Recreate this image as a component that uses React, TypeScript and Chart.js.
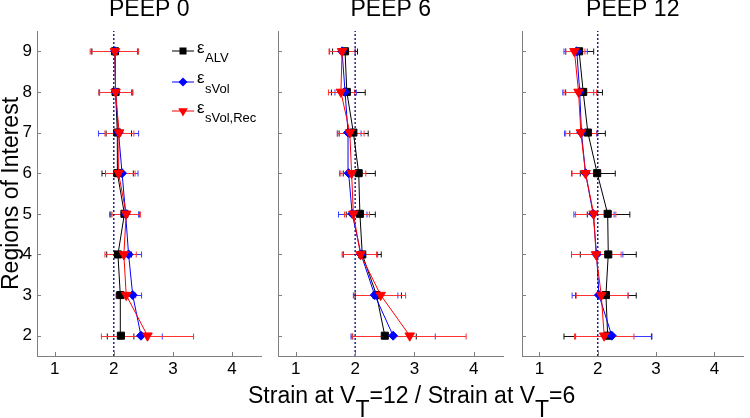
import React, { useEffect, useRef } from "react";
import { Chart, registerables } from "chart.js";

Chart.register(...registerables);

// ---------- data ----------
const regions = [2, 3, 4, 5, 6, 7, 8, 9];
const xTicks = [1, 2, 3, 4];
const xMin = 0.7;
const xMax = 4.5;
const yMin = 1.5;
const yMax = 9.5;
const refStrain = 2;
const panelTitles = ["PEEP 0", "PEEP 6", "PEEP 12"];

// PEEP 0
const p0AlvMean = [2.12, 2.11, 2.07, 2.18, 2.06, 2.06, 2.03, 2.02];
const p0AlvLo = [1.89, 2.04, 1.88, 1.95, 1.8, 1.87, 1.75, 1.63];
const p0AlvHi = [2.34, 2.2, 2.3, 2.43, 2.33, 2.3, 2.32, 2.41];
const p0VolMean = [2.46, 2.32, 2.25, 2.2, 2.14, 2.08, 2.03, 2.02];
const p0VolLo = [2.1, 2.17, 2.02, 1.93, 1.86, 1.74, 1.76, 1.62];
const p0VolHi = [2.82, 2.47, 2.47, 2.42, 2.41, 2.42, 2.3, 2.4];
const p0RecMean = [2.57, 2.21, 2.17, 2.21, 2.08, 2.09, 2.03, 2.02];
const p0RecLo = [1.79, 2.05, 1.85, 1.97, 1.86, 1.85, 1.75, 1.6];
const p0RecHi = [3.35, 2.37, 2.38, 2.45, 2.36, 2.34, 2.32, 2.42];

// PEEP 6
const p6AlvMean = [2.5, 2.36, 2.12, 2.08, 2.06, 1.97, 1.86, 1.83];
const p6AlvLo = [1.95, 2.0, 1.8, 1.85, 1.8, 1.73, 1.6, 1.62];
const p6AlvHi = [3.03, 2.78, 2.44, 2.34, 2.34, 2.22, 2.17, 2.04];
const p6VolMean = [2.64, 2.33, 2.1, 1.95, 1.89, 1.88, 1.83, 1.78];
const p6VolLo = [1.93, 1.97, 1.8, 1.72, 1.74, 1.7, 1.66, 1.57];
const p6VolHi = [3.35, 2.72, 2.38, 2.2, 2.05, 2.1, 2.02, 2.0];
const p6RecMean = [2.92, 2.43, 2.09, 1.97, 1.94, 1.91, 1.76, 1.78];
const p6RecLo = [1.96, 2.0, 1.78, 1.82, 1.76, 1.7, 1.55, 1.56];
const p6RecHi = [3.87, 2.85, 2.36, 2.24, 2.18, 2.15, 1.99, 2.0];

// PEEP 12
const p12AlvMean = [2.17, 2.14, 2.18, 2.17, 1.99, 1.83, 1.75, 1.68];
const p12AlvLo = [1.42, 1.62, 1.7, 1.82, 1.7, 1.52, 1.45, 1.45];
const p12AlvHi = [2.92, 2.66, 2.66, 2.55, 2.3, 2.13, 2.08, 1.93];
const p12VolMean = [2.24, 2.02, 1.98, 1.92, 1.79, 1.72, 1.69, 1.64];
const p12VolLo = [1.62, 1.56, 1.55, 1.59, 1.55, 1.43, 1.4, 1.42];
const p12VolHi = [2.93, 2.52, 2.43, 2.28, 2.02, 1.98, 1.93, 1.82];
const p12RecMean = [2.11, 2.06, 1.97, 1.93, 1.79, 1.71, 1.67, 1.6];
const p12RecLo = [1.6, 1.63, 1.55, 1.62, 1.56, 1.45, 1.42, 1.45];
const p12RecHi = [2.62, 2.52, 2.4, 2.31, 2.02, 1.99, 1.98, 1.78];

// ---------- styling ----------
const FONT = "'Liberation Sans', Arial, Helvetica, sans-serif";
const BLACK = "#000000";
const BLUE = "#0000ff";
const RED = "#ff0000";
const AXIS = "#808080";
const H = 418;

type Series = { mean: number[]; lo: number[]; hi: number[] };
type PanelCfg = {
  title: string;
  alv: Series;
  vol: Series;
  rec: Series;
  showY: boolean;
  left: number;
  width: number;
  yWidth: number;
  padRight: number;
};

const panels: PanelCfg[] = [
  {
    title: panelTitles[0],
    alv: { mean: p0AlvMean, lo: p0AlvLo, hi: p0AlvHi },
    vol: { mean: p0VolMean, lo: p0VolLo, hi: p0VolHi },
    rec: { mean: p0RecMean, lo: p0RecLo, hi: p0RecHi },
    showY: true,
    left: 0,
    width: 268,
    yWidth: 37,
    padRight: 3,
  },
  {
    title: panelTitles[1],
    alv: { mean: p6AlvMean, lo: p6AlvLo, hi: p6AlvHi },
    vol: { mean: p6VolMean, lo: p6VolLo, hi: p6VolHi },
    rec: { mean: p6RecMean, lo: p6RecLo, hi: p6RecHi },
    showY: false,
    left: 270,
    width: 240,
    yWidth: 8,
    padRight: 3,
  },
  {
    title: panelTitles[2],
    alv: { mean: p12AlvMean, lo: p12AlvLo, hi: p12AlvHi },
    vol: { mean: p12VolMean, lo: p12VolLo, hi: p12VolHi },
    rec: { mean: p12RecMean, lo: p12RecLo, hi: p12RecHi },
    showY: false,
    left: 514,
    width: 236,
    yWidth: 8,
    padRight: 1,
  },
];

function Panel({ cfg }: { cfg: PanelCfg }) {
  const ref = useRef<HTMLCanvasElement>(null);
  useEffect(() => {
    if (!ref.current) return;
    const series = [
      { s: cfg.alv, color: BLACK, bar: "#111111", style: "rect", radius: 5, rotation: 0, order: 2 },
      { s: cfg.vol, color: BLUE, bar: "#3a3aff", style: "rectRot", radius: 4.5, rotation: 0, order: 1 },
      { s: cfg.rec, color: RED, bar: "#ff3030", style: "triangle", radius: 5.5, rotation: 180, order: 0 },
    ];
    const errorBars = {
      id: "errorBars",
      beforeDatasetsDraw(chart: any) {
        const { ctx } = chart;
        const x = chart.scales.x;
        const y = chart.scales.y;
        ctx.save();
        ctx.lineWidth = 1;
        series.forEach(({ s, bar }) => {
          ctx.strokeStyle = bar;
          regions.forEach((r, i) => {
            const py = Math.round(y.getPixelForValue(r)) + 0.5;
            const x1 = x.getPixelForValue(s.lo[i]);
            const x2 = x.getPixelForValue(s.hi[i]);
            ctx.beginPath();
            ctx.moveTo(x1, py);
            ctx.lineTo(x2, py);
            ctx.moveTo(x1, py - 3);
            ctx.lineTo(x1, py + 3);
            ctx.moveTo(x2, py - 3);
            ctx.lineTo(x2, py + 3);
            ctx.stroke();
          });
        });
        ctx.restore();
      },
    };
    const innerTicks = {
      id: "innerTicks",
      afterDraw(chart: any) {
        const { ctx, chartArea } = chart;
        const x = chart.scales.x;
        const y = chart.scales.y;
        ctx.save();
        ctx.strokeStyle = AXIS;
        ctx.lineWidth = 1;
        ctx.beginPath();
        xTicks.forEach((v) => {
          const px = Math.round(x.getPixelForValue(v)) + 0.5;
          ctx.moveTo(px, chartArea.bottom);
          ctx.lineTo(px, chartArea.bottom - 4);
        });
        regions.forEach((v) => {
          const py = Math.round(y.getPixelForValue(v)) + 0.5;
          ctx.moveTo(chartArea.left, py);
          ctx.lineTo(chartArea.left + 4, py);
        });
        ctx.stroke();
        ctx.restore();
      },
    };
    const chart = new Chart(ref.current, {
      type: "scatter",
      data: {
        datasets: [
          ...series.map((d) => ({
            data: regions.map((r, i) => ({ x: d.s.mean[i], y: r })),
            showLine: true,
            borderColor: d.color,
            borderWidth: 1,
            pointStyle: d.style as any,
            pointRadius: d.radius,
            pointRotation: d.rotation,
            pointBackgroundColor: d.color,
            pointBorderColor: d.color,
            pointBorderWidth: 1,
            order: d.order,
          })),
          {
            data: [
              { x: refStrain, y: yMin },
              { x: refStrain, y: yMax },
            ],
            showLine: true,
            borderColor: "#00007a",
            borderDash: [2, 2],
            borderWidth: 1.3,
            pointRadius: 0,
            order: 3,
          },
        ],
      },
      options: {
        responsive: false,
        animation: false,
        devicePixelRatio: 1,
        events: [],
        layout: { padding: { left: 0, right: cfg.padRight, top: 0, bottom: 0 } },
        plugins: {
          legend: { display: false },
          tooltip: { enabled: false },
          title: {
            display: true,
            text: cfg.title,
            fullSize: false,
            color: "#000",
            font: { family: FONT, size: 23, weight: "normal", lineHeight: 0.8 },
            padding: { top: 0, bottom: 12.6 },
          },
        },
        scales: {
          x: {
            type: "linear",
            min: xMin,
            max: xMax,
            afterBuildTicks: (s: any) => {
              s.ticks = xTicks.map((v) => ({ value: v }));
            },
            afterFit: (s: any) => {
              s.height = 62;
            },
            grid: { display: true, drawOnChartArea: false, drawTicks: false },
            border: { display: true, color: AXIS, width: 1 },
            ticks: {
              color: "#000",
              font: { family: FONT, size: 17 },
              padding: 3,
              maxRotation: 0,
              autoSkip: false,
            },
          },
          y: {
            type: "linear",
            min: yMin,
            max: yMax,
            afterBuildTicks: (s: any) => {
              s.ticks = regions.map((v) => ({ value: v }));
            },
            afterFit: (s: any) => {
              s.width = cfg.yWidth;
            },
            grid: { display: true, drawOnChartArea: false, drawTicks: false },
            border: { display: true, color: AXIS, width: 1 },
            ticks: {
              display: cfg.showY,
              color: "#000",
              font: { family: FONT, size: 17 },
              padding: 5,
              autoSkip: false,
            },
            title: {
              display: cfg.showY,
              text: "Regions of Interest",
              color: "#000",
              font: { family: FONT, size: 23, lineHeight: 1 },
              padding: 0,
            },
          },
        },
      } as any,
      plugins: [errorBars, innerTicks],
    });
    return () => chart.destroy();
  }, [cfg]);
  return (
    <canvas
      ref={ref}
      width={cfg.width}
      height={H}
      style={{ position: "absolute", left: cfg.left, top: 0, width: cfg.width, height: H }}
    />
  );
}

const legendEntries = [
  { sub: "ALV", color: BLACK, marker: "square", y: 51 },
  { sub: "sVol", color: BLUE, marker: "diamond", y: 81.5 },
  { sub: "sVol,Rec", color: RED, marker: "triangle", y: 111 },
];

function Marker({ kind, color }: { kind: string; color: string }) {
  if (kind === "square") return <rect x={8.5} y={3.5} width={7} height={7} fill={color} />;
  if (kind === "diamond") return <polygon points="12,2.5 16.5,7 12,11.5 7.5,7" fill={color} />;
  return <polygon points="7.2,4.2 16.8,4.2 12,12.5" fill={color} />;
}

function Legend() {
  return (
    <>
      {legendEntries.map((e) => (
        <div key={e.sub}>
          <svg
            width={24}
            height={14}
            style={{ position: "absolute", left: 171, top: e.y - 7 }}
          >
            <line x1={1} y1={7} x2={23} y2={7} stroke={e.color} strokeWidth={1} />
            <Marker kind={e.marker} color={e.color} />
          </svg>
          <span
            style={{
              position: "absolute",
              left: 197,
              top: e.y + 2 - 14.4,
              fontFamily: FONT,
              fontSize: 17,
              lineHeight: "17px",
              color: "#000",
              whiteSpace: "nowrap",
            }}
          >
            ε
          </span>
          <span
            style={{
              position: "absolute",
              left: 205,
              top: e.y + 11 - 11,
              fontFamily: FONT,
              fontSize: 13,
              lineHeight: "13px",
              color: "#000",
              whiteSpace: "nowrap",
            }}
          >
            {e.sub}
          </span>
        </div>
      ))}
    </>
  );
}

function XLabel() {
  const sub: React.CSSProperties = { position: "relative", top: 14 };
  return (
    <div
      style={{
        position: "absolute",
        left: 248,
        top: 383.5,
        fontFamily: FONT,
        fontSize: 23,
        lineHeight: "23px",
        color: "#000",
        whiteSpace: "nowrap",
      }}
    >
      Strain at V<span style={sub}>T</span>=12 / Strain at V<span style={sub}>T</span>=6
    </div>
  );
}

export default function App() {
  return (
    <div
      style={{
        position: "absolute",
        left: 0,
        top: 0,
        width: 750,
        height: H,
        background: "#fff",
        overflow: "hidden",
      }}
    >
      {panels.map((p) => (
        <Panel key={p.title} cfg={p} />
      ))}
      <Legend />
      <XLabel />
    </div>
  );
}
